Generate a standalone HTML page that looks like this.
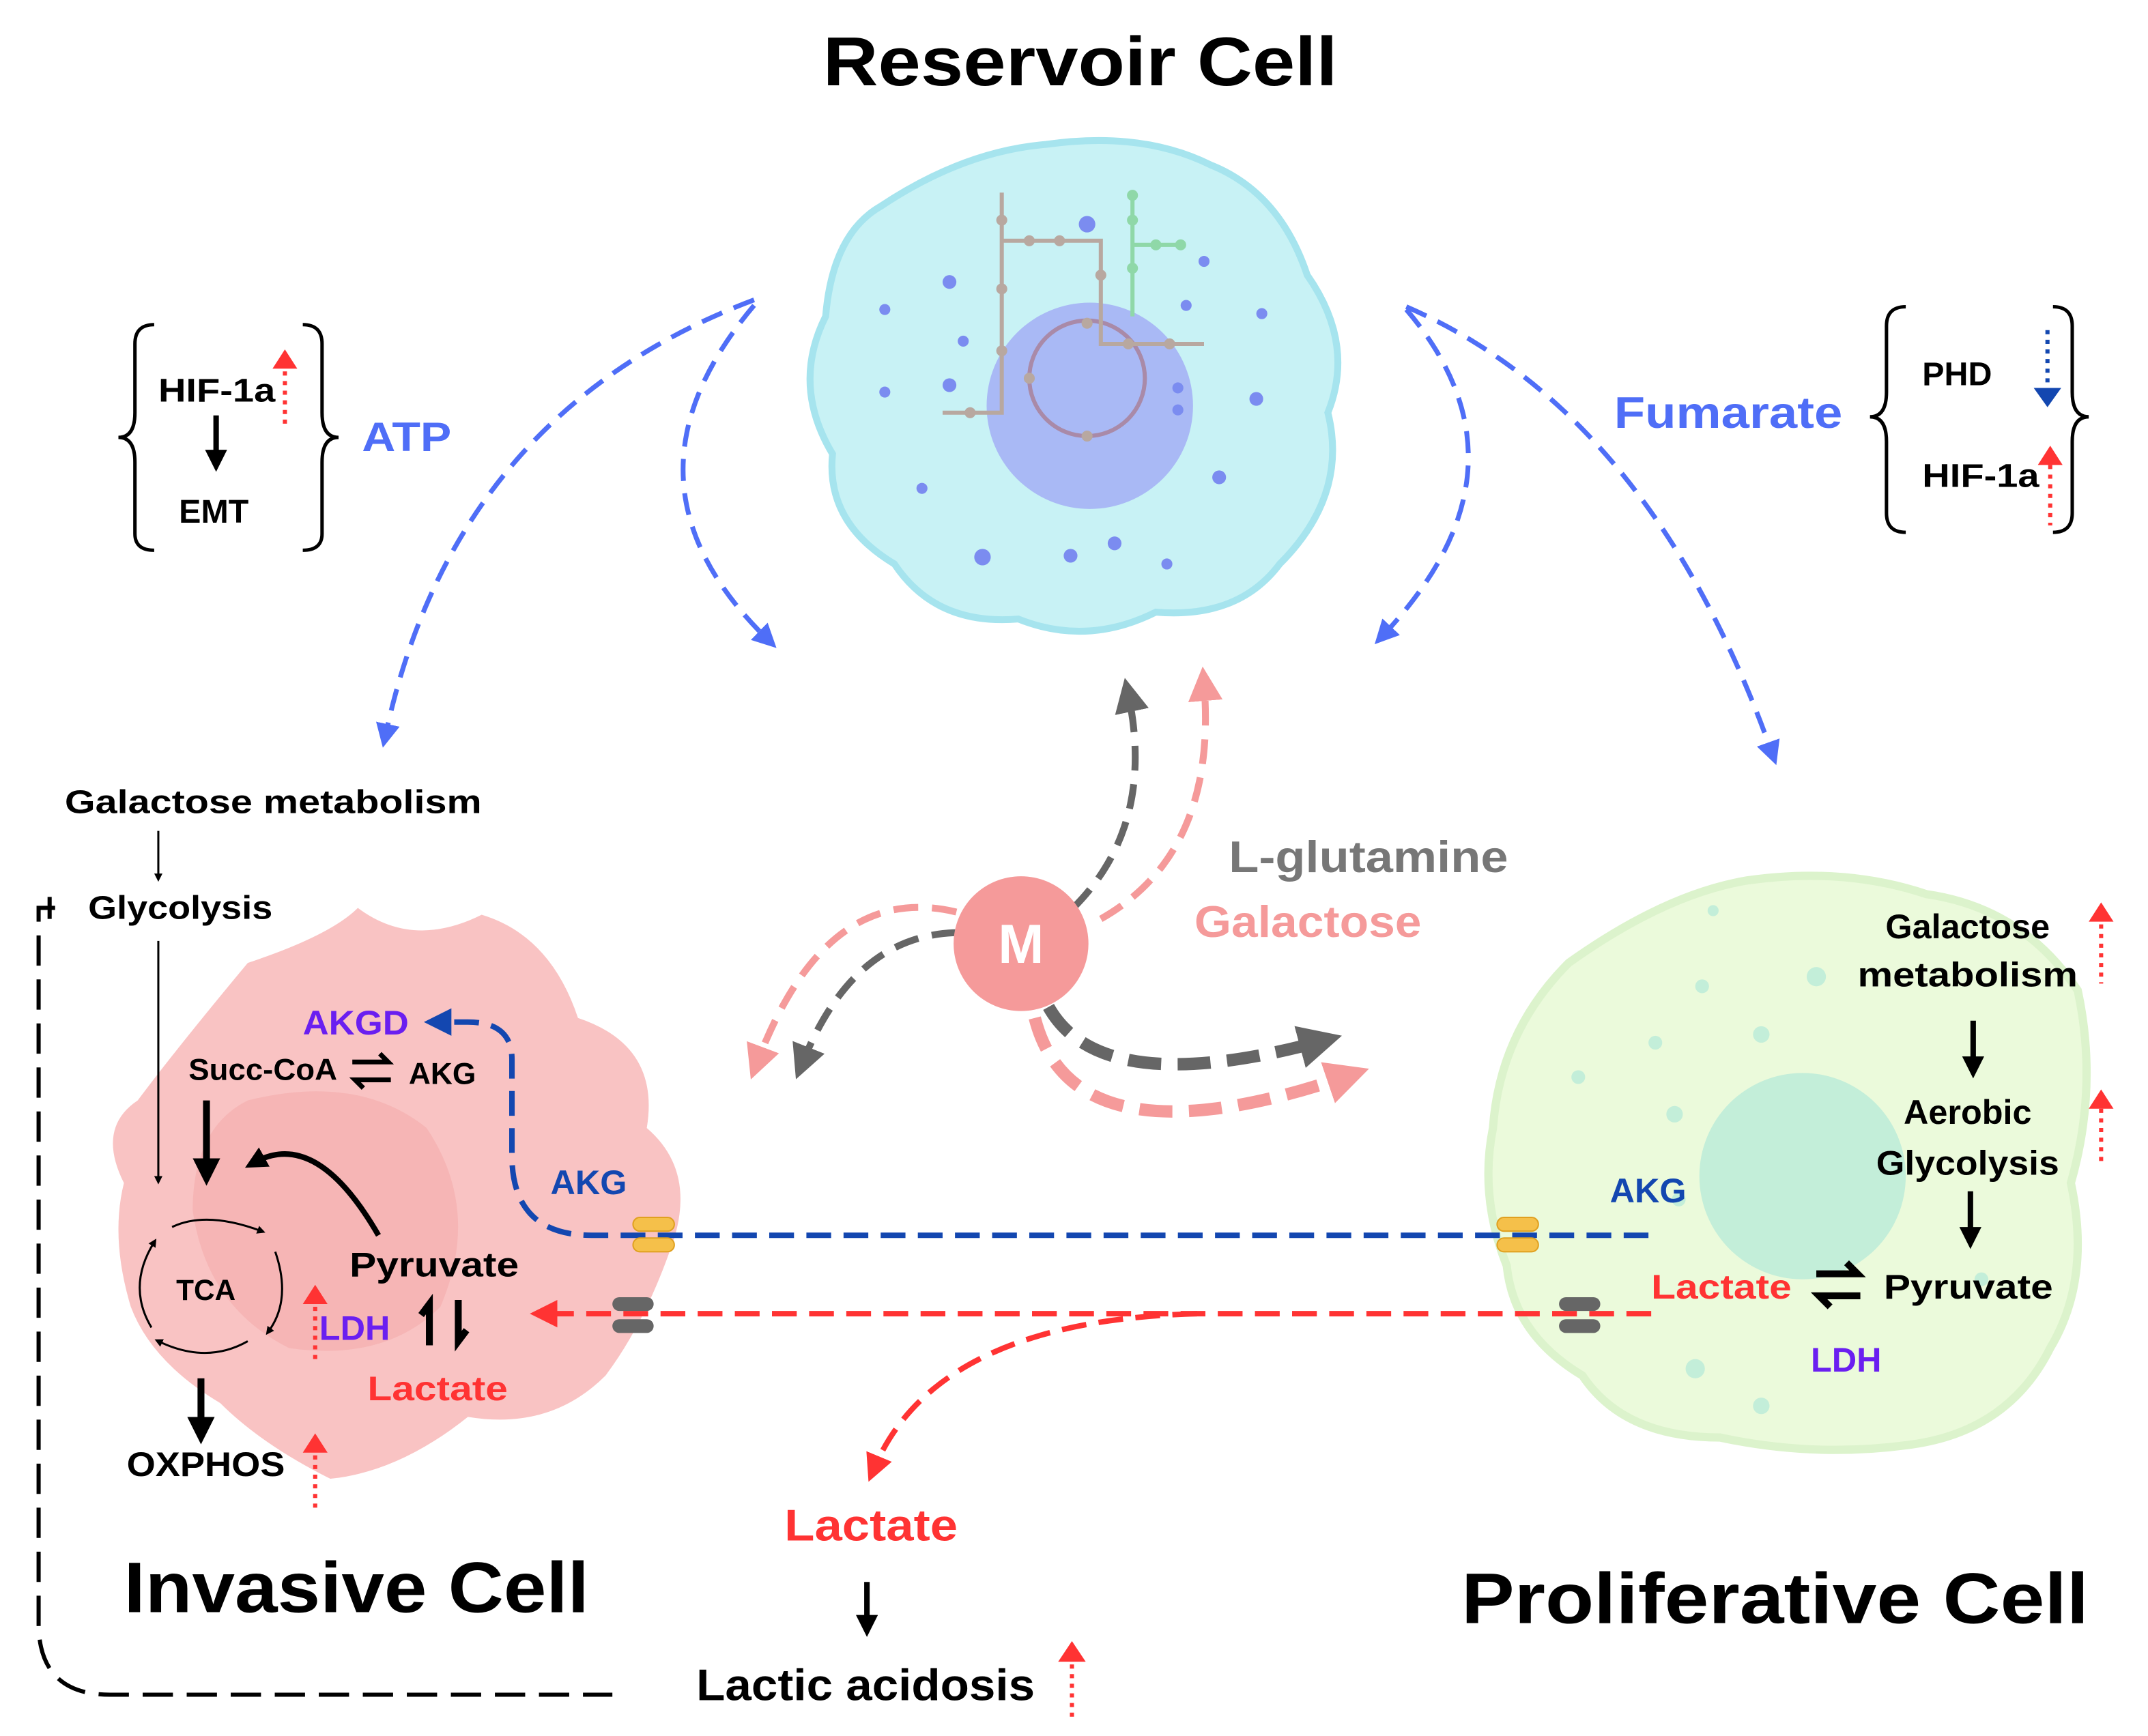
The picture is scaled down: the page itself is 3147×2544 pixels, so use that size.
<!DOCTYPE html>
<html><head><meta charset="utf-8"><style>
html,body{margin:0;padding:0;background:#fff}
svg{display:block}
text{font-family:"Liberation Sans","DejaVu Sans",sans-serif;font-weight:bold}
</style></head><body>
<svg width="3147" height="2544" viewBox="0 0 1561 1262" xmlns="http://www.w3.org/2000/svg">
<defs>
<marker id="ab" viewBox="0 0 10 10" refX="5" refY="5" markerWidth="5" markerHeight="5" orient="auto"><path d="M0,0 L10,5 L0,10 z" fill="#4f6ef7"/></marker>
<marker id="ag" viewBox="0 0 10 10" refX="5" refY="5" markerWidth="5" markerHeight="5" orient="auto"><path d="M0,0 L10,5 L0,10 z" fill="#666"/></marker>
<marker id="ap" viewBox="0 0 10 10" refX="5" refY="5" markerWidth="5" markerHeight="5" orient="auto"><path d="M0,0 L10,5 L0,10 z" fill="#f59a9a"/></marker>
<marker id="ag2" viewBox="0 0 10 10" refX="5" refY="5" markerWidth="3.5" markerHeight="3.5" orient="auto"><path d="M0,0 L10,5 L0,10 z" fill="#666"/></marker>
<marker id="ap2" viewBox="0 0 10 10" refX="5" refY="5" markerWidth="3.5" markerHeight="3.5" orient="auto"><path d="M0,0 L10,5 L0,10 z" fill="#f59a9a"/></marker>
<marker id="ar" viewBox="0 0 10 10" refX="5" refY="5" markerWidth="5" markerHeight="5" orient="auto"><path d="M0,0 L10,5 L0,10 z" fill="#f33"/></marker>
<marker id="adb" viewBox="0 0 10 10" refX="5" refY="5" markerWidth="5" markerHeight="5" orient="auto"><path d="M0,0 L10,5 L0,10 z" fill="#1347b0"/></marker>
<marker id="ak" viewBox="0 0 10 10" refX="5" refY="5" markerWidth="4" markerHeight="4" orient="auto"><path d="M0,0 L10,5 L0,10 z" fill="#000"/></marker>
</defs>

<text x="598" y="62" font-size="50" textLength="374" lengthAdjust="spacingAndGlyphs">Reservoir Cell</text>

<!-- Reservoir cell -->
<path d="M640,150 Q700,110 760,105 Q830,95 880,120 Q930,140 950,200 Q985,250 965,300 Q980,360 930,410 Q900,450 840,445 Q790,470 740,450 Q680,455 650,410 Q600,380 605,330 Q575,280 600,230 Q605,170 640,150 Z" fill="#c8f2f5" stroke="#a6e4ee" stroke-width="5"/>
<circle cx="792" cy="295" r="75" fill="#a9b9f5"/>
<circle cx="790" cy="275" r="42" fill="none" stroke="#a98aa8" stroke-width="3"/>
<g stroke="#b8a8a0" stroke-width="3" fill="none"><path d="M728,140 V300 H685 M728,175 H800 V250 H875"/></g>
<g fill="#b8a8a0"><circle cx="728" cy="160" r="4"/><circle cx="728" cy="210" r="4"/><circle cx="728" cy="255" r="4"/><circle cx="705" cy="300" r="4"/><circle cx="748" cy="175" r="4"/><circle cx="770" cy="175" r="4"/><circle cx="800" cy="200" r="4"/><circle cx="820" cy="250" r="4"/><circle cx="850" cy="250" r="4"/><circle cx="790" cy="235" r="4"/><circle cx="790" cy="317" r="4"/><circle cx="748" cy="275" r="4"/></g>
<g stroke="#8fd8a8" stroke-width="3" fill="none"><path d="M823,142 V230 M823,178 H860"/></g>
<g fill="#8fd8a8"><circle cx="823" cy="142" r="4"/><circle cx="823" cy="160" r="4"/><circle cx="823" cy="195" r="4"/><circle cx="840" cy="178" r="4"/><circle cx="858" cy="178" r="4"/></g>
<g fill="#7b8cf0"><circle cx="690" cy="205" r="5"/><circle cx="643" cy="225" r="4"/><circle cx="700" cy="248" r="4"/><circle cx="690" cy="280" r="5"/><circle cx="643" cy="285" r="4"/><circle cx="670" cy="355" r="4"/><circle cx="714" cy="405" r="6"/><circle cx="778" cy="404" r="5"/><circle cx="810" cy="395" r="5"/><circle cx="848" cy="410" r="4"/><circle cx="886" cy="347" r="5"/><circle cx="913" cy="290" r="5"/><circle cx="917" cy="228" r="4"/><circle cx="875" cy="190" r="4"/><circle cx="790" cy="163" r="6"/><circle cx="862" cy="222" r="4"/><circle cx="856" cy="282" r="4"/><circle cx="856" cy="298" r="4"/></g>

<!-- Invasive cell -->
<path d="M180,700 Q240,680 260,660 Q300,690 350,665 Q400,680 420,740 Q480,760 470,820 Q505,850 490,900 Q470,960 440,1000 Q400,1040 340,1030 Q290,1070 240,1075 Q190,1050 160,1020 Q110,990 95,950 Q80,900 90,860 Q70,820 100,800 Q130,760 180,700 Z" fill="#f9c3c3"/>
<path d="M180,800 Q260,780 310,820 Q350,880 320,950 Q280,990 210,980 Q150,950 140,880 Q140,820 180,800 Z" fill="#f4a8a8" opacity="0.5"/>

<!-- Proliferative cell -->
<path d="M1140,700 Q1210,650 1270,640 Q1340,630 1400,650 Q1470,660 1510,720 Q1525,790 1505,860 Q1520,930 1490,980 Q1460,1040 1390,1050 Q1320,1060 1250,1045 Q1180,1045 1150,1000 Q1100,970 1095,920 Q1075,870 1085,820 Q1090,750 1140,700 Z" fill="#ebfadb" stroke="#dcf3cc" stroke-width="6"/>
<circle cx="1310" cy="855" r="75" fill="#c3eed9"/>
<g fill="#c3eed9"><circle cx="1237" cy="717" r="5"/><circle cx="1280" cy="752" r="6"/><circle cx="1320" cy="710" r="7"/><circle cx="1203" cy="758" r="5"/><circle cx="1217" cy="810" r="6"/><circle cx="1147" cy="783" r="5"/><circle cx="1220" cy="872" r="5"/><circle cx="1232" cy="995" r="7"/><circle cx="1280" cy="1022" r="6"/><circle cx="1440" cy="930" r="5"/><circle cx="1245" cy="662" r="4"/></g>

<!-- Blue big arrows -->
<g stroke="#4f6ef7" stroke-width="3.5" fill="none" stroke-dasharray="16,9">
<path d="M548,218 Q330,300 280,535" marker-end="url(#ab)"/>
<path d="M548,222 Q440,350 558,465" marker-end="url(#ab)"/>
<path d="M1022,223 Q1200,300 1288,548" marker-end="url(#ab)"/>
<path d="M1022,225 Q1120,340 1005,462" marker-end="url(#ab)"/>
</g>
<text x="263" y="328" font-size="30" fill="#4f6ef7" textLength="65" lengthAdjust="spacingAndGlyphs">ATP</text>
<text x="1173" y="311" font-size="32" fill="#4f6ef7" textLength="166" lengthAdjust="spacingAndGlyphs">Fumarate</text>

<!-- braces -->
<g stroke="#000" stroke-width="2.5" fill="none">
<path d="M112,236 Q98,236 98,250 V300 Q98,318 86,318 Q98,318 98,336 V388 Q98,400 112,400"/>
<path d="M220,236 Q234,236 234,250 V300 Q234,318 246,318 Q234,318 234,336 V388 Q234,400 220,400"/>
<path d="M1385,223 Q1371,223 1371,237 V285 Q1371,303 1359,303 Q1371,303 1371,321 V373 Q1371,387 1385,387"/>
<path d="M1492,223 Q1506,223 1506,237 V285 Q1506,303 1518,303 Q1506,303 1506,321 V373 Q1506,387 1492,387"/>
</g>
<text x="115" y="292" font-size="24" textLength="85" lengthAdjust="spacingAndGlyphs">HIF-1a</text>
<text x="130" y="380" font-size="24">EMT</text>
<path d="M157,302 V335" stroke="#000" stroke-width="4" marker-end="url(#ak)"/>
<path d="M207,270 V310" stroke="#f33" stroke-width="3" stroke-dasharray="3,4"/><path d="M198,268 L207,254 L216,268 Z" fill="#f33"/>
<text x="1397" y="280" font-size="24">PHD</text>
<text x="1397" y="354" font-size="24" textLength="85" lengthAdjust="spacingAndGlyphs">HIF-1a</text>
<path d="M1488,240 V282" stroke="#1347b0" stroke-width="3" stroke-dasharray="3,4"/><path d="M1478,282 L1488,296 L1498,282 Z" fill="#1347b0"/>
<path d="M1490,338 V382" stroke="#f33" stroke-width="3" stroke-dasharray="3,4"/><path d="M1481,338 L1490,324 L1499,338 Z" fill="#f33"/>

<!-- M and arrows -->
<g stroke-width="5" fill="none" stroke-dasharray="18,10">
<path d="M780,660 Q840,600 820,505" stroke="#666" marker-end="url(#ag)"/>
<path d="M800,668 Q885,620 875,497" stroke="#f59a9a" marker-end="url(#ap)"/>
<path d="M695,663 Q600,640 550,773" stroke="#f59a9a" marker-end="url(#ap)"/>
<path d="M695,678 Q620,680 583,773" stroke="#666" marker-end="url(#ag)"/>
</g>
<g stroke-width="9" fill="none" stroke-dasharray="24,12">
<path d="M762,732 Q800,800 960,757" stroke="#666" marker-end="url(#ag2)"/>
<path d="M752,740 Q780,850 980,782" stroke="#f59a9a" marker-end="url(#ap2)"/>
</g>
<circle cx="742" cy="686" r="49" fill="#f59a9a"/>
<text x="742" y="700" font-size="40" fill="#fff" text-anchor="middle">M</text>
<text x="893" y="634" font-size="32" fill="#777" textLength="203" lengthAdjust="spacingAndGlyphs">L-glutamine</text>
<text x="868" y="681" font-size="32" fill="#f59a9a" textLength="165" lengthAdjust="spacingAndGlyphs">Galactose</text>

<!-- Left side text -->
<text x="47" y="591" font-size="24" textLength="303" lengthAdjust="spacingAndGlyphs">Galactose metabolism</text>
<path d="M115,604 V638" stroke="#000" stroke-width="1.5" marker-end="url(#ak)"/>
<text x="64" y="668" font-size="24" textLength="134" lengthAdjust="spacingAndGlyphs">Glycolysis</text>
<path d="M115,684 V858" stroke="#000" stroke-width="1.5" marker-end="url(#ak)"/>
<path d="M40,660 H28 V1180 Q28,1232 80,1232 H445" stroke="#000" stroke-width="3" fill="none" stroke-dasharray="22,10"/>
<path d="M36,652 V668" stroke="#000" stroke-width="3"/>
<text x="220" y="752" font-size="25" fill="#6a1ff0" textLength="77" lengthAdjust="spacingAndGlyphs">AKGD</text>
<text x="137" y="785" font-size="22" textLength="108" lengthAdjust="spacingAndGlyphs">Succ-CoA</text>
<text x="297" y="788" font-size="22">AKG</text>
<path d="M256,772 H282 L276,766 M284,785 H258 L264,791" stroke="#000" stroke-width="3.5" fill="none"/>
<path d="M150,800 V852" stroke="#000" stroke-width="5" marker-end="url(#ak)"/>
<path d="M275,898 Q230,820 185,845" stroke="#000" stroke-width="4" fill="none" marker-end="url(#ak)"/>
<g fill="none" stroke="#000" stroke-width="1.5">
<path d="M125,892 Q150,880 190,895" marker-end="url(#ak)"/>
<path d="M200,910 Q212,945 195,968" marker-end="url(#ak)"/>
<path d="M180,975 Q150,992 115,975" marker-end="url(#ak)"/>
<path d="M110,965 Q92,935 112,903" marker-end="url(#ak)"/>
</g>
<text x="128" y="945" font-size="21">TCA</text>
<text x="254" y="928" font-size="25" textLength="123" lengthAdjust="spacingAndGlyphs">Pyruvate</text>
<text x="232" y="974" font-size="25" fill="#6a1ff0">LDH</text>
<path d="M312,978 V948 L306,956 M333,945 V975 L339,967" stroke="#000" stroke-width="5" fill="none"/>
<text x="267" y="1018" font-size="25" fill="#f33" textLength="102" lengthAdjust="spacingAndGlyphs">Lactate</text>
<path d="M229,950 V990" stroke="#f33" stroke-width="3" stroke-dasharray="3,4"/><path d="M220,948 L229,934 L238,948 Z" fill="#f33"/>
<path d="M146,1002 V1040" stroke="#000" stroke-width="5" marker-end="url(#ak)"/>
<text x="92" y="1073" font-size="25" textLength="115" lengthAdjust="spacingAndGlyphs">OXPHOS</text>
<path d="M229,1058 V1100" stroke="#f33" stroke-width="3" stroke-dasharray="3,4"/><path d="M220,1056 L229,1042 L238,1056 Z" fill="#f33"/>
<text x="90" y="1172" font-size="52" textLength="338" lengthAdjust="spacingAndGlyphs">Invasive Cell</text>

<!-- AKG / lactate transport -->
<path d="M1198,898 H430 Q372,898 372,840 V770 Q372,743 340,743 H318" stroke="#1347b0" stroke-width="4" fill="none" stroke-dasharray="18,9" marker-end="url(#adb)"/>
<text x="400" y="868" font-size="25" fill="#1347b0">AKG</text>
<path d="M1200,955 H395" stroke="#f33" stroke-width="4" fill="none" stroke-dasharray="18,9" marker-end="url(#ar)"/>
<path d="M870,955 Q680,960 635,1068" stroke="#f33" stroke-width="4" fill="none" stroke-dasharray="18,9" marker-end="url(#ar)"/>
<rect x="460" y="885" width="30" height="10" rx="5" fill="#f5c04a" stroke="#e0a020"/><rect x="460" y="900" width="30" height="10" rx="5" fill="#f5c04a" stroke="#e0a020"/>
<rect x="1088" y="885" width="30" height="10" rx="5" fill="#f5c04a" stroke="#e0a020"/><rect x="1088" y="900" width="30" height="10" rx="5" fill="#f5c04a" stroke="#e0a020"/>
<rect x="445" y="943" width="30" height="10" rx="5" fill="#666"/><rect x="445" y="959" width="30" height="10" rx="5" fill="#666"/>
<rect x="1133" y="943" width="30" height="10" rx="5" fill="#666"/><rect x="1133" y="959" width="30" height="10" rx="5" fill="#666"/>

<text x="570" y="1120" font-size="32" fill="#f33" textLength="126" lengthAdjust="spacingAndGlyphs">Lactate</text>
<path d="M630,1150 V1182" stroke="#000" stroke-width="4" marker-end="url(#ak)"/>
<text x="506" y="1236" font-size="32" textLength="246" lengthAdjust="spacingAndGlyphs">Lactic acidosis</text>
<path d="M779,1210 V1250" stroke="#f33" stroke-width="3" stroke-dasharray="3,4"/><path d="M769,1208 L779,1193 L789,1208 Z" fill="#f33"/>

<!-- Right cell text -->
<text x="1430" y="682" font-size="25" text-anchor="middle">Galactose</text>
<text x="1430" y="717" font-size="25" text-anchor="middle" textLength="160" lengthAdjust="spacingAndGlyphs">metabolism</text>
<path d="M1527,672 V715" stroke="#f33" stroke-width="3" stroke-dasharray="3,4"/><path d="M1518,670 L1527,656 L1536,670 Z" fill="#f33"/>
<path d="M1434,742 V776" stroke="#000" stroke-width="4" marker-end="url(#ak)"/>
<text x="1430" y="817" font-size="25" text-anchor="middle">Aerobic</text>
<text x="1430" y="854" font-size="25" text-anchor="middle" textLength="133" lengthAdjust="spacingAndGlyphs">Glycolysis</text>
<path d="M1527,806 V848" stroke="#f33" stroke-width="3" stroke-dasharray="3,4"/><path d="M1518,806 L1527,792 L1536,806 Z" fill="#f33"/>
<path d="M1432,866 V900" stroke="#000" stroke-width="4" marker-end="url(#ak)"/>
<text x="1170" y="874" font-size="25" fill="#1347b0">AKG</text>
<text x="1200" y="944" font-size="25" fill="#f33" textLength="102" lengthAdjust="spacingAndGlyphs">Lactate</text>
<path d="M1320,926 H1350 L1342,918 M1352,942 H1322 L1330,950" stroke="#000" stroke-width="5" fill="none"/>
<text x="1369" y="944" font-size="25" textLength="123" lengthAdjust="spacingAndGlyphs">Pyruvate</text>
<text x="1316" y="997" font-size="25" fill="#6a1ff0">LDH</text>
<text x="1062" y="1180" font-size="52" textLength="456" lengthAdjust="spacingAndGlyphs">Proliferative Cell</text>
</svg>
</body></html>
